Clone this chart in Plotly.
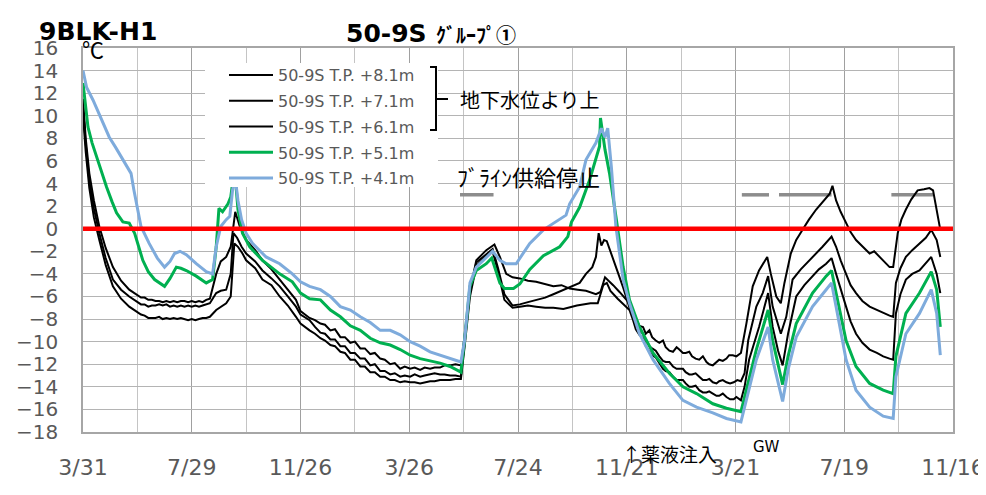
import plotly.graph_objects as go

# ---------------- data: [day since 3/31 of first year, temperature] ----------------
tick_vals = [0, 120, 240, 360, 480, 600, 720, 840, 960]
tick_text = ["3/31", "7/29", "11/26", "3/26", "7/24", "11/21", "3/21", "7/19", "11/16"]

k81 = [[0, 11.5], [3, 8.0], [7, 4.9], [12, 2.5], [18, 0.2], [25, -1.7], [33, -3.4], [42, -4.6], [51, -5.4],
       [60, -5.9], [64, -6.1], [68, -6.1], [72, -6.3], [76, -6.3], [80, -6.4], [84, -6.4], [88, -6.5], [92, -6.4], [96, -6.5],
       [100, -6.4], [104, -6.5], [108, -6.4], [112, -6.4], [116, -6.5], [120, -6.4], [124, -6.5], [128, -6.4], [132, -6.5],
       [136, -6.3], [140, -6.2],
       [147, -4.0], [152, -2.9], [158, -2.5], [163, -1.6], [168, 1.5], [173, 0.2], [180, -1.0], [190, -1.9], [198, -2.8],
       [208, -3.6], [217, -4.5], [226, -5.4], [235, -6.3], [240, -7.3], [250, -7.9],
       [256, -8.1], [262, -8.4], [267, -8.5], [273, -9.0], [278, -8.9], [284, -9.6], [289, -9.6], [295, -10.1], [300, -10.0],
       [306, -10.6], [311, -10.6], [317, -11.1], [322, -11.0], [328, -11.5], [333, -11.6], [339, -12.0], [344, -11.9],
       [350, -12.4], [355, -12.2], [361, -12.4], [366, -12.3], [372, -12.5], [377, -12.3], [383, -12.4], [388, -12.3],
       [394, -12.3], [399, -12.1], [405, -12.1], [411, -12.0], [417, -12.1],
       [421, -9.5], [427, -5.5], [434, -2.8], [440, -2.3], [445, -1.9], [454, -1.4], [460, -2.5], [467, -4.0], [474, -4.3], [482, -4.4],
       [491, -4.6], [500, -4.7], [510, -4.9], [519, -5.1], [528, -5.0], [537, -5.3], [546, -5.4], [555, -5.5], [566, -5.8],
       [571, -5.6], [576, -4.3], [580, -4.6], [585, -5.0], [592, -5.6], [603, -6.6],
       [607, -7.5], [610, -7.9], [614, -8.6], [618, -8.7], [621, -9.3], [625, -9.0], [628, -9.6], [632, -9.9], [636, -10.1],
       [640, -9.9], [643, -10.5], [647, -10.8], [651, -10.9], [655, -10.5], [658, -10.7], [662, -11.0], [665, -11.0],
       [669, -10.9], [672, -11.3], [676, -11.5], [680, -11.6], [684, -11.3], [688, -11.8], [691, -12.0], [695, -12.1],
       [699, -11.8], [702, -11.6], [706, -11.7], [710, -11.5], [713, -11.2], [717, -11.2], [721, -11.3], [726, -11.0],
       [732, -8.4], [739, -5.1], [746, -3.7], [755, -2.5], [759, -4.0], [765, -6.0], [770, -6.6], [774, -4.8], [781, -2.2],
       [787, -1.0], [794, -0.1], [801, 0.8], [809, 1.7], [816, 2.4], [824, 3.1], [827, 3.8], [831, 2.5], [836, 1.5],
       [842, 0.5], [847, -0.3], [853, -1.0], [860, -1.6], [868, -2.2], [873, -2.0], [879, -2.5], [885, -3.0], [890, -3.4],
       [894, -3.4], [899, -0.4], [903, 0.8], [908, 1.7], [914, 2.6], [921, 3.4], [928, 3.5], [934, 3.6], [938, 3.4],
       [943, 1.4], [946, -0.1]]

k71 = [[0, 10.8], [3, 7.5], [7, 4.2], [12, 1.8], [18, -0.4], [25, -2.6], [33, -4.5], [42, -5.4], [51, -6.0],
       [60, -6.5], [64, -6.7], [68, -6.7], [72, -6.9], [76, -6.8], [80, -6.8], [84, -6.7], [88, -6.8], [92, -6.7], [96, -6.9],
       [100, -6.8], [104, -6.9], [108, -6.8], [112, -6.9], [116, -6.8], [120, -6.9], [124, -6.8], [128, -6.9], [132, -6.8],
       [136, -6.7], [140, -6.6],
       [147, -5.7], [152, -5.5], [158, -5.4], [163, -4.0], [166, -0.4], [170, -0.8], [175, -1.6], [180, -2.2], [190, -2.9],
       [198, -3.7], [208, -4.4], [217, -5.1], [226, -6.0], [235, -6.9], [240, -7.6], [250, -8.1],
       [256, -8.7], [262, -9.2], [267, -9.3], [273, -9.8], [278, -9.8], [284, -10.4], [289, -10.4], [295, -11.0], [300, -11.0],
       [306, -11.5], [311, -11.5], [317, -12.1], [322, -12.0], [328, -12.6], [333, -12.6], [339, -12.9], [344, -12.8],
       [350, -13.1], [355, -13.0], [361, -13.1], [366, -12.9], [372, -13.1], [377, -13.0], [383, -12.9], [388, -12.8],
       [394, -12.9], [399, -12.9], [405, -13.0], [411, -13.0], [417, -13.1],
       [421, -10.0], [427, -5.5], [434, -3.0], [440, -2.6], [445, -2.2], [452, -1.8], [458, -3.5], [465, -5.8], [474, -6.8], [482, -6.7],
       [491, -6.5], [500, -6.3], [510, -6.1], [519, -5.8], [528, -5.5], [537, -5.2], [548, -4.8], [555, -4.0], [562, -3.4],
       [566, -2.5], [569, -0.4], [572, -1.5], [575, -1.0], [578, -1.1], [582, -2.0], [588, -3.4], [596, -5.2], [603, -7.0],
       [607, -7.8], [610, -8.5], [614, -9.0], [618, -9.3], [621, -9.9], [625, -10.4], [628, -10.6], [632, -10.8], [636, -11.3],
       [640, -11.7], [643, -11.8], [647, -11.8], [651, -12.2], [655, -12.4], [658, -12.4], [662, -12.4], [665, -12.7],
       [669, -12.9], [672, -12.9], [676, -12.8], [680, -13.1], [684, -13.4], [688, -13.4], [691, -13.3], [695, -13.6],
       [699, -13.7], [702, -13.5], [706, -13.4], [710, -13.6], [714, -13.7], [718, -13.6], [722, -13.4], [726, -13.5],
       [730, -12.8], [734, -9.9], [743, -6.9], [750, -5.7], [756, -4.2], [761, -6.9], [770, -9.3], [776, -7.8], [783, -4.5],
       [792, -3.6], [802, -2.8], [809, -2.2], [816, -1.6], [826, -0.7], [831, -1.6], [836, -2.8], [842, -4.0], [847, -5.0],
       [853, -5.7], [860, -6.4], [868, -6.9], [876, -7.2], [883, -7.5], [890, -7.7], [894, -7.8], [897, -4.8], [902, -3.5],
       [908, -2.5], [915, -1.9], [923, -1.3], [930, -0.8], [936, -0.1], [942, -1.0], [946, -2.5]]

k61 = [[0, 10.0], [3, 6.8], [7, 3.6], [12, 1.0], [18, -1.0], [25, -3.2], [33, -5.1], [42, -6.2], [51, -6.9],
       [60, -7.4], [64, -7.6], [68, -7.7], [72, -7.9], [76, -7.9], [80, -7.9], [84, -7.8], [88, -8.0], [92, -7.9], [96, -8.0],
       [100, -7.9], [104, -8.0], [108, -7.9], [112, -8.0], [116, -8.1], [120, -8.0], [124, -8.1], [128, -8.0], [132, -7.9],
       [136, -7.9], [140, -7.8],
       [147, -7.2], [152, -6.9], [158, -6.6], [163, -6.0], [167, -1.3], [171, -1.6], [176, -2.2], [180, -2.8], [190, -3.5],
       [198, -4.5], [208, -5.0], [217, -6.0], [226, -6.8], [235, -7.8], [240, -8.4], [250, -9.0],
       [256, -9.3], [262, -9.7], [267, -9.9], [273, -10.3], [278, -10.4], [284, -10.9], [289, -11.0], [295, -11.6], [300, -11.6],
       [306, -12.2], [311, -12.2], [317, -12.7], [322, -12.7], [328, -13.1], [333, -13.1], [339, -13.4], [344, -13.4],
       [350, -13.6], [355, -13.5], [361, -13.6], [366, -13.6], [372, -13.7], [377, -13.6], [383, -13.5], [388, -13.5],
       [394, -13.4], [399, -13.4], [405, -13.4], [411, -13.3], [417, -13.3],
       [421, -10.5], [427, -6.0], [434, -3.3], [440, -2.8], [445, -2.4], [452, -2.0], [458, -3.8], [465, -6.3], [474, -7.0], [482, -6.9],
       [491, -6.8], [500, -6.9], [510, -7.0], [519, -7.0], [530, -7.1], [545, -6.8], [560, -6.6], [568, -6.6], [574, -5.0],
       [578, -4.8], [582, -5.5], [590, -6.2], [603, -7.2],
       [607, -8.1], [610, -8.9], [614, -9.4], [618, -9.7], [621, -10.4], [625, -10.9], [628, -11.2], [632, -11.4], [636, -11.9],
       [640, -12.4], [643, -12.6], [647, -12.7], [651, -13.1], [655, -13.4], [658, -13.4], [662, -13.4], [665, -13.7],
       [669, -14.0], [672, -14.0], [676, -13.9], [680, -14.3], [684, -14.5], [688, -14.5], [691, -14.4], [695, -14.6],
       [699, -14.8], [702, -14.8], [706, -14.6], [710, -14.9], [714, -15.1], [718, -15.1], [721, -14.9], [726, -15.2],
       [730, -14.0], [735, -11.6], [746, -8.7], [756, -5.7], [761, -8.7], [767, -10.8], [772, -12.1], [778, -9.3], [787, -6.0],
       [796, -5.0], [805, -4.2], [812, -3.6], [820, -3.1], [826, -2.6], [831, -4.0], [836, -5.4], [842, -6.9], [847, -8.2],
       [853, -9.3], [860, -10.1], [868, -10.7], [876, -11.0], [883, -11.3], [890, -11.5], [894, -11.6], [897, -7.5],
       [902, -5.8], [908, -4.5], [915, -4.0], [923, -3.7], [930, -3.0], [936, -2.5], [942, -4.0], [946, -5.7]]

k51 = [[0, 12.9], [3, 10.5], [5.5, 9.0], [10, 7.6], [15, 6.4], [20, 5.0], [26, 3.7], [32, 2.4], [37, 1.4], [44, 0.6],
       [51, 0.5], [57, -0.4], [62, -1.8], [66, -2.8], [72, -3.8], [79, -4.5], [90, -5.1], [96, -4.4], [103, -3.4],
       [108, -3.5], [114, -3.7], [125, -4.2], [136, -4.8], [143, -4.5], [147, -1.6], [150, 1.8], [154, 1.5], [160, 2.2],
       [163, 2.8], [165, 4.0], [168, 4.6], [171, 1.7], [176, -0.4], [184, -1.6], [198, -2.8], [217, -4.0], [231, -4.7],
       [240, -5.7], [250, -6.2], [262, -6.3], [273, -7.2], [284, -7.8], [295, -8.6], [306, -9.0], [317, -9.7], [328, -10.1],
       [339, -10.3], [350, -10.7], [361, -11.2], [372, -11.5], [383, -11.7], [394, -11.9], [405, -12.2], [417, -12.7],
       [421, -9.9], [427, -5.1], [434, -3.7], [445, -3.1], [451, -2.6], [460, -4.8], [465, -5.3], [475, -5.3], [482, -4.9],
       [493, -3.6], [508, -2.4], [526, -1.6], [535, -0.7], [539, 0.6], [548, 1.9], [559, 4.3], [570, 7.3], [571, 9.8],
       [576, 7.0], [581, 4.9], [588, 1.1], [596, -3.4], [603, -6.3], [614, -8.7], [629, -11.0], [647, -12.8], [662, -14.0],
       [677, -14.6], [695, -15.5], [710, -15.9], [726, -16.2], [731, -14.6], [734, -13.4], [743, -10.7], [756, -7.2],
       [761, -9.9], [772, -13.8], [778, -11.3], [787, -8.4], [805, -5.7], [820, -4.2], [826, -3.7], [831, -5.7], [842, -9.9],
       [853, -12.2], [868, -13.7], [883, -14.3], [894, -14.6], [897, -11.3], [908, -7.5], [923, -5.7], [936, -3.8],
       [942, -5.4], [946, -8.7]]

k41 = [[0, 14.0], [4, 12.5], [11, 11.4], [20, 9.8], [29, 8.1], [36, 7.2], [42, 6.4], [48, 5.5], [53, 4.9], [56, 3.5],
       [59, 2.2], [64, 0.2], [73, -1.3], [82, -2.6], [90, -3.4], [96, -2.9], [101, -2.2], [107, -2.0], [114, -2.3],
       [125, -3.1], [136, -3.8], [143, -4.0], [147, -1.6], [152, 0.2], [158, 0.8], [162, 1.1], [165, 3.4], [168, 4.5],
       [171, 2.5], [175, 0.8], [180, -0.4], [187, -1.3], [202, -2.5], [217, -3.1], [231, -4.0], [240, -4.7], [250, -5.1],
       [262, -5.4], [273, -6.0], [284, -6.9], [295, -7.2], [306, -7.8], [317, -8.3], [328, -9.0], [339, -9.0], [350, -9.4],
       [361, -10.0], [372, -10.4], [383, -10.9], [394, -11.2], [405, -11.5], [417, -11.8],
       [421, -9.9], [427, -4.8], [434, -3.4], [445, -2.5], [452, -2.0], [460, -2.8], [467, -3.1], [478, -3.1], [482, -2.6],
       [493, -1.3], [508, -0.1], [519, 0.5], [533, 1.2], [537, 2.2], [548, 3.7], [555, 6.1], [566, 7.6], [572, 8.9],
       [576, 8.1], [579, 8.9], [583, 5.5], [588, 0.2], [596, -4.5], [603, -6.6], [614, -9.3], [629, -11.6], [647, -13.7],
       [662, -15.2], [677, -15.8], [695, -16.3], [710, -16.8], [726, -17.1], [730, -15.8], [734, -14.6], [743, -11.6],
       [756, -8.7], [761, -11.6], [772, -15.3], [778, -12.5], [787, -9.6], [805, -6.9], [820, -5.4], [826, -4.8], [831, -6.9],
       [842, -11.6], [853, -14.3], [868, -15.8], [883, -16.6], [894, -16.8], [897, -13.1], [908, -9.3], [923, -7.5],
       [936, -5.4], [942, -7.5], [946, -11.2]]

# brine supply stop periods (drawn at 3 deg)
stop_days = [416, 453, None, 727, 757, None, 768, 826, None, 892, 938]
stop_vals = [3, 3, None, 3, 3, None, 3, 3, None, 3, 3]

series_names = ["50-9S T.P. +8.1m", "50-9S T.P. +7.1m", "50-9S T.P. +6.1m", "50-9S T.P. +5.1m", "50-9S T.P. +4.1m"]
series_data = [k81, k71, k61, k51, k41]
series_colors = ["black", "black", "black", "#00b050", "#7eabdc"]
series_widths = [2, 2, 2, 3, 3]

# ---------------- figure ----------------
# target plot area in page pixels; the page body has an 8px default margin
OFF = 8
PL, PR, PT, PB = 83, 953, 48, 432
W, H = 978, 482
L, T = PL - OFF, PT - OFF
R = W - (PR - OFF)
B = H - (PB - OFF)


def px(x):
    return (x - PL) / (PR - PL)


def py(y):
    return (PB - y) / (PB - PT)


fig = go.Figure()

fig.add_trace(go.Scatter(x=stop_days, y=stop_vals, mode="lines", showlegend=False,
                         line=dict(color="#8c8c8c", width=3.5), connectgaps=False, hoverinfo="skip"))

for i, pts in enumerate(series_data):
    fig.add_trace(go.Scatter(x=[p[0] for p in pts], y=[p[1] for p in pts], mode="lines",
                             name=series_names[i], legendgroup=f"g{i}",
                             line=dict(color=series_colors[i], width=series_widths[i])))

fig.add_shape(type="line", xref="paper", yref="y", x0=0, x1=1, y0=0, y1=0,
              line=dict(color="#ff0000", width=4.5), layer="above")

# legend box (white)
fig.add_shape(type="rect", xref="paper", yref="paper", x0=px(205), x1=px(438), y0=py(187), y1=py(63),
              fillcolor="white", line=dict(width=0), layer="above")

# bracket
fig.add_shape(type="path", xref="paper", yref="paper",
              path=f"M {px(430)},{py(67)} L {px(436)},{py(67)} L {px(436)},{py(130)} L {px(430)},{py(130)}",
              line=dict(color="black", width=2), layer="above")
fig.add_shape(type="line", xref="paper", yref="paper", x0=px(436), x1=px(448), y0=py(99), y1=py(99),
              line=dict(color="black", width=2), layer="above")

cjk = "Noto Sans CJK JP"
ann = [
    dict(text="<b>9BLK-H1</b>", x=px(37), y=py(31), font=dict(family="DejaVu Sans", size=25, color="black")),
    dict(text="<b>50-9S</b>", x=px(344), y=py(33), font=dict(family="DejaVu Sans", size=25, color="black")),
    dict(text="<b>ｸﾞﾙｰﾌﾟ①</b>", x=px(434), y=py(35), font=dict(family=cjk, size=20, color="black")),
    dict(text="℃", x=px(80), y=py(48), font=dict(family=cjk, size=22, color="black")),
    dict(text="地下水位より上", x=px(458), y=py(100), font=dict(family=cjk, size=20, color="black")),
    dict(text="ﾌﾞﾗｲﾝ供給停止", x=px(455), y=py(176), font=dict(family=cjk, size=22, color="black")),
    dict(text="↑薬液注入", x=px(620), y=py(453), font=dict(family=cjk, size=19, color="black")),
    dict(text="GW", x=px(751), y=py(447), font=dict(family="DejaVu Sans", size=15, color="black")),
]
for a in ann:
    fig.add_annotation(xref="paper", yref="paper", xanchor="left", yanchor="middle", showarrow=False, **a)

fig.update_layout(
    width=W, height=H,
    margin=dict(l=L, r=R, t=T, b=B, autoexpand=False),
    paper_bgcolor="white", plot_bgcolor="white",
    font=dict(family="DejaVu Sans", color="#595959"),
    legend=dict(x=px(224), y=py(58), xanchor="left", yanchor="top", bgcolor="rgba(0,0,0,0)",
                font=dict(family="DejaVu Sans", size=16, color="#595959"),
                traceorder="grouped", tracegroupgap=2, itemwidth=44),
)
fig.update_xaxes(range=[0, 960], tickmode="array", tickvals=tick_vals, ticktext=tick_text,
                 showgrid=True, gridcolor="#a0a0a0", gridwidth=1.3,
                 minor=dict(tickmode="array", tickvals=[60, 180, 300, 420, 540, 660, 780, 900],
                            showgrid=True, gridcolor="#c4c4c4", gridwidth=1.3),
                 showline=True, linecolor="#a6a6a6", linewidth=1.5, mirror=True, automargin=False,
                 ticks="", tickfont=dict(size=22, color="#595959"), ticklabelstandoff=15,
                 zeroline=False)
fig.update_yaxes(range=[-18, 16], dtick=2, tick0=0, showgrid=True, gridcolor="#b4b4b4", gridwidth=1.3,
                 showline=True, linecolor="#a6a6a6", linewidth=1.5, mirror=True, automargin=False,
                 ticks="", tickfont=dict(size=20, color="#595959"), ticklabelstandoff=19,
                 zeroline=False)

fig.write_html("out.html")
